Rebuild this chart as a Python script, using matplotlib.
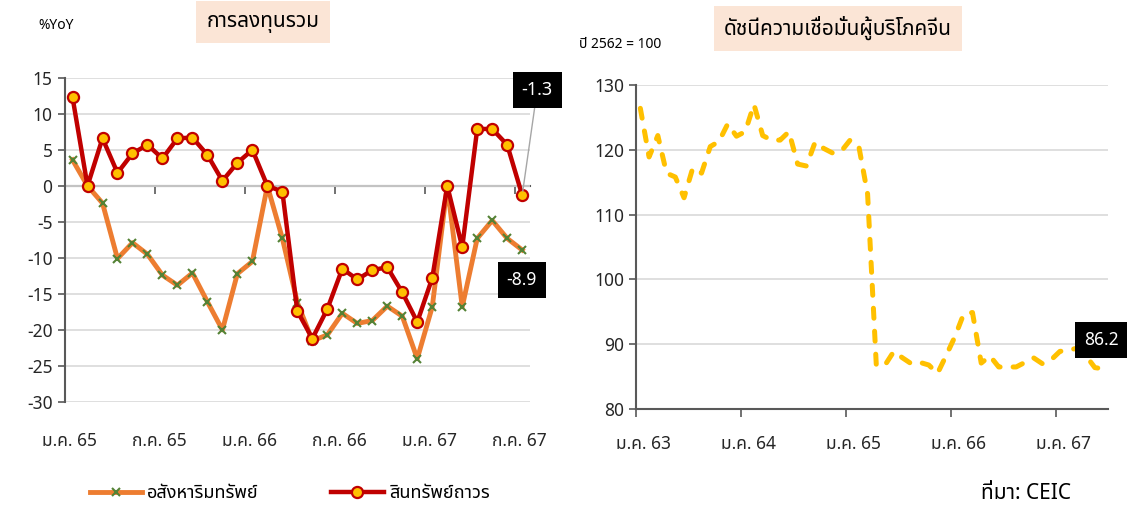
import matplotlib
matplotlib.use("Agg")
import matplotlib.pyplot as plt
from matplotlib import font_manager, ft2font
import numpy as np


def find_thai_font():
    preferred = ['Noto Sans Thai', 'Noto Sans Thai UI', 'Tahoma', 'Leelawadee UI', 'Loma',
                 'Garuda', 'Sarabun', 'Waree', 'Tlwg Typo', 'Umpush', 'Kinnari', 'Norasi']
    names = {f.name for f in font_manager.fontManager.ttflist}
    for p in preferred:
        if p in names:
            return p
    for f in font_manager.fontManager.ttflist:
        try:
            if 0x0E01 in ft2font.FT2Font(f.fname).get_charmap():
                return f.name
        except Exception:
            pass
    return None


thai = find_thai_font()
fams = ([thai] if thai else []) + ['DejaVu Sans']
plt.rcParams['font.family'] = fams

# left panel: total investment, %YoY, monthly Jan 2022 - Jul 2024
left_ticklabels = ['ม.ค. 65', 'ก.ค. 65', 'ม.ค. 66', 'ก.ค. 66', 'ม.ค. 67', 'ก.ค. 67']
fixed_assets = [12.3, 0.0, 6.6, 1.8, 4.5, 5.7, 3.8, 6.6, 6.7, 4.3, 0.7, 3.2, 5.0, 0.0, -0.8,
                -17.4, -21.2, -17.1, -11.5, -13.0, -11.7, -11.3, -14.8, -18.9, -12.8,
                0.0, -8.5, 7.9, 7.9, 5.7, -1.3]
real_estate = [3.6, 0.0, -2.4, -10.1, -7.9, -9.5, -12.4, -13.8, -12.1, -16.1, -20.0, -12.2,
               -10.5, 0.0, -7.3, -16.2, -21.5, -20.7, -17.7, -19.1, -18.7, -16.7, -18.1,
               -24.0, -16.8, 0.0, -16.8, -7.3, -4.8, -7.3, -8.9]

# right panel: China consumer confidence, monthly Jan 2020 - Jun 2024
right_ticklabels = ['ม.ค. 63', 'ม.ค. 64', 'ม.ค. 65', 'ม.ค. 66', 'ม.ค. 67']
cci = [126.4, 118.9, 122.2, 116.4, 115.8, 112.6, 117.2, 116.4, 120.5, 121.3, 124.0, 122.1,
       122.8, 127.0, 122.2, 121.5, 121.5, 122.8, 117.8, 117.5, 121.2, 120.2, 119.5, 119.8,
       121.5, 120.5, 113.2, 86.7, 86.8, 88.9, 87.9, 87.0, 87.2, 86.8, 85.5, 88.3,
       91.2, 94.7, 94.9, 87.1, 88.2, 86.5, 86.5, 86.5, 87.2, 87.9, 87.0, 87.6,
       88.9, 89.1, 89.4, 88.2, 86.4, 86.2]

RED = '#C00000'
YEL = '#FFC000'
ORANGE = '#ED7D31'
GREEN = '#548235'
GRID = '#D9D9D9'
AXC = '#595959'

fig = plt.figure(figsize=(11.27, 5.12), dpi=100)

# ---- left chart
ax1 = fig.add_axes([0.0577, 0.215, 0.4123, 0.633])
x1 = np.arange(len(fixed_assets))
ax1.plot(x1, real_estate, color=ORANGE, lw=3.5, marker='x', ms=6, mew=1.5,
         mec=GREEN, label='อสังหาริมทรัพย์', zorder=3)
ax1.plot(x1, fixed_assets, color=RED, lw=3.2, marker='o', ms=8, mew=1.6,
         mfc=YEL, mec=RED, label='สินทรัพย์ถาวร', zorder=4)
ax1.set_xlim(-0.5, len(fixed_assets) - 0.5)
ax1.set_ylim(-30, 15)
ax1.set_yticks(np.arange(-30, 16, 5))
ax1.yaxis.grid(True, color=GRID, lw=1.2)
ax1.set_axisbelow(True)
for s in ['top', 'right', 'bottom']:
    ax1.spines[s].set_visible(False)
ax1.spines['left'].set_color(AXC)
ax1.spines['left'].set_linewidth(1.5)
ax1.tick_params(axis='y', colors='#262626', labelsize=12.5, length=5, width=1.2,
                color=AXC, pad=4)
ax1.set_xticks(np.arange(0, len(fixed_assets), 6) - 0.2)
ax1.set_xticklabels(left_ticklabels)
ax1.tick_params(axis='x', length=0, labelsize=12.5, colors='#262626', pad=22)

# axis line through zero with tick marks between categories
sec = ax1.secondary_xaxis(30 / 45)
sec.set_xticks(np.arange(0, len(fixed_assets), 6) - 0.5)
sec.set_xticklabels([])
sec.tick_params(direction='in', length=6, width=1.2, color=AXC)
for s in sec.spines.values():
    s.set_color(AXC)
    s.set_linewidth(1.5)

box = dict(boxstyle='square,pad=0.5', fc='black', ec='none')
ax1.annotate(f'{fixed_assets[-1]:.1f}', xy=(x1[-1], fixed_assets[-1]), xytext=(31.0, 13.3),
             color='white', fontsize=13, ha='center', va='center', bbox=box,
             arrowprops=dict(arrowstyle='-', color='#A6A6A6', lw=1, shrinkA=0, shrinkB=3),
             annotation_clip=False, zorder=6)
ax1.annotate(f'{real_estate[-1]:.1f}', xy=(x1[-1], real_estate[-1]), xytext=(29.97, -13.05),
             color='white', fontsize=12.5, ha='center', va='center', bbox=box,
             annotation_clip=False, zorder=6)

# ---- right chart
ax2 = fig.add_axes([0.5643, 0.201, 0.4188, 0.633])
x2 = np.arange(len(cci))
ax2.plot(x2, cci, color=YEL, lw=3.6, ls=(0, (2.0, 2.6)), dash_capstyle='round')
ax2.set_xlim(-0.5, len(cci) - 0.5)
ax2.set_ylim(80, 130)
ax2.set_yticks(np.arange(80, 131, 10))
ax2.yaxis.grid(True, color=GRID, lw=1.2)
ax2.set_axisbelow(True)
for s in ['top', 'right']:
    ax2.spines[s].set_visible(False)
for s in ['left', 'bottom']:
    ax2.spines[s].set_color(AXC)
    ax2.spines[s].set_linewidth(1.5)
ax2.tick_params(axis='y', colors='#262626', labelsize=12.5, length=5, width=1.2, color=AXC)
ax2.set_xticks(np.arange(0, len(cci), 12) - 0.5)
ax2.set_xticklabels([])
ax2.set_xticks(np.arange(0, len(cci), 12) + 0.4, minor=True)
ax2.set_xticklabels(right_ticklabels, minor=True)
ax2.tick_params(axis='x', which='major', length=6, width=1.2, color=AXC)
ax2.tick_params(axis='x', which='minor', length=0, labelsize=12.5, colors='#262626', pad=19)
ax2.annotate(f'{cci[-1]:.1f}', xy=(x2[-1], cci[-1]), xytext=(52.75, 90.65),
             color='white', fontsize=12.5, ha='center', va='center', bbox=box,
             annotation_clip=False, zorder=6)

# ---- titles and notes
peach = dict(boxstyle='square,pad=0.5', fc='#FBE5D6', ec='none')
fig.text(0.2334, 0.957, 'การลงทุนรวม', fontsize=15, ha='center', va='center', bbox=peach)
fig.text(0.7436, 0.945, 'ดัชนีความเชื่อมั่นผู้บริโภคจีน', fontsize=15, ha='center',
         va='center', bbox=peach)
fig.text(0.0497, 0.951, '%YoY', fontsize=10, ha='center', va='center')
fig.text(0.550, 0.914, 'ปี 2562 = 100', fontsize=10, ha='center', va='center',
         fontweight='bold')

h, l = ax1.get_legend_handles_labels()
fig.legend(h, l, loc='center', bbox_to_anchor=(0.257, 0.037), ncol=2, frameon=False,
           fontsize=13, handlelength=2.9, columnspacing=4, numpoints=1, handletextpad=0.3)
fig.text(0.910, 0.037, 'ที่มา: CEIC', fontsize=15, ha='center', va='center')

fig.savefig('out.png', dpi=100)
